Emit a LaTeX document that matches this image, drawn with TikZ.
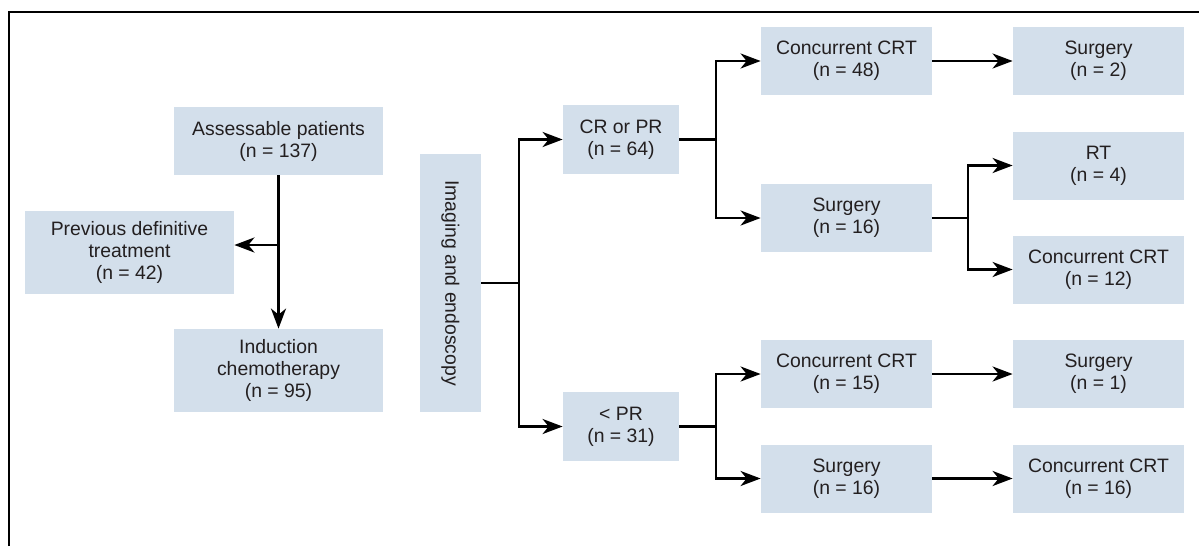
\documentclass[tikz,border=0pt]{standalone}
\usepackage{fontspec}
\setmainfont{Liberation Sans}
\usepackage{xcolor}
\usetikzlibrary{positioning,arrows.meta}
\definecolor{boxblue}{RGB}{211,223,235}
\definecolor{boxtext}{RGB}{35,31,32}
\tikzset{
box/.style={fill=boxblue, inner sep=0pt, align=center, text=boxtext, font=\fontsize{9.7}{11}\selectfont, minimum width=85.5pt, minimum height=34pt},
widebox/.style={box, minimum width=104.5pt},
smallbox/.style={box, minimum width=58pt, minimum height=34.5pt},
link/.style={line width=1.3pt},
arr/.style={link, -{Stealth[length=10pt, width=7.5pt, inset=3pt]}}
}

\begin{document}
\begin{tikzpicture}[x=0.5pt,y=-0.5pt]
\useasboundingbox (0,0) rectangle (1199,546);
\draw[line width=0.7pt] (9,546) -- (9,12) -- (1199,12);

\node[widebox] (assess) at (278.5,141) {Assessable patients\\(n = 137)};
\node[widebox, minimum height=41.5pt] (prev) at (129.5,252.5) {Previous definitive\\treatment\\(n = 42)};
\node[widebox, minimum height=41.5pt] (induct) at (278.5,370.5) {Induction\\chemotherapy\\(n = 95)};
\node[box, rotate=-90, minimum width=129pt, minimum height=30.5pt] (imaging) at (450.5,283) {Imaging and endoscopy};

\node[smallbox] (crpr) at (621,139.5) {CR or PR\\(n = 64)};
\node[smallbox] (lesspr) at (621,426.5) {< PR\\(n = 31)};

\node[box] (crtA) at (846.5,61) {Concurrent CRT\\(n = 48)};
\node[box] (surgA) at (846.5,218) {Surgery\\(n = 16)};
\node[box] (crtB) at (846.5,374) {Concurrent CRT\\(n = 15)};
\node[box] (surgB) at (846.5,478.5) {Surgery\\(n = 16)};

\node[box] (surgC) at (1098.5,61) {Surgery\\(n = 2)};
\node[box] (rt) at (1098.5,165.5) {RT\\(n = 4)};
\node[box] (crtC) at (1098.5,269.5) {Concurrent CRT\\(n = 12)};
\node[box] (surgD) at (1098.5,374) {Surgery\\(n = 1)};
\node[box] (crtD) at (1098.5,478.5) {Concurrent CRT\\(n = 16)};

\coordinate (split) at (278.5,245);
\coordinate (trunk) at (519,283);
\coordinate (forkA) at (716,139.5);
\coordinate (forkB) at (716,426.5);
\coordinate (forkC) at (968,218);

\draw[arr] (assess) -- (induct);
\draw[arr] (split) -- (split -| prev.east);

\draw[arr] (imaging) -- (trunk) |- (crpr.west);
\draw[arr] (trunk) |- (lesspr.west);

\draw[link] (crpr) -- (forkA);
\draw[arr] (forkA) |- (crtA.west);
\draw[arr] (forkA) |- (surgA.west);
\draw[link] (lesspr) -- (forkB);
\draw[arr] (forkB) |- (crtB.west);
\draw[arr] (forkB) |- (surgB.west);
\draw[link] (surgA) -- (forkC);
\draw[arr] (forkC) |- (rt.west);
\draw[arr] (forkC) |- (crtC.west);

\draw[arr] (crtA) -- (surgC);
\draw[arr] (crtB) -- (surgD);
\draw[arr] (surgB) -- (crtD);
\end{tikzpicture}
\end{document}
